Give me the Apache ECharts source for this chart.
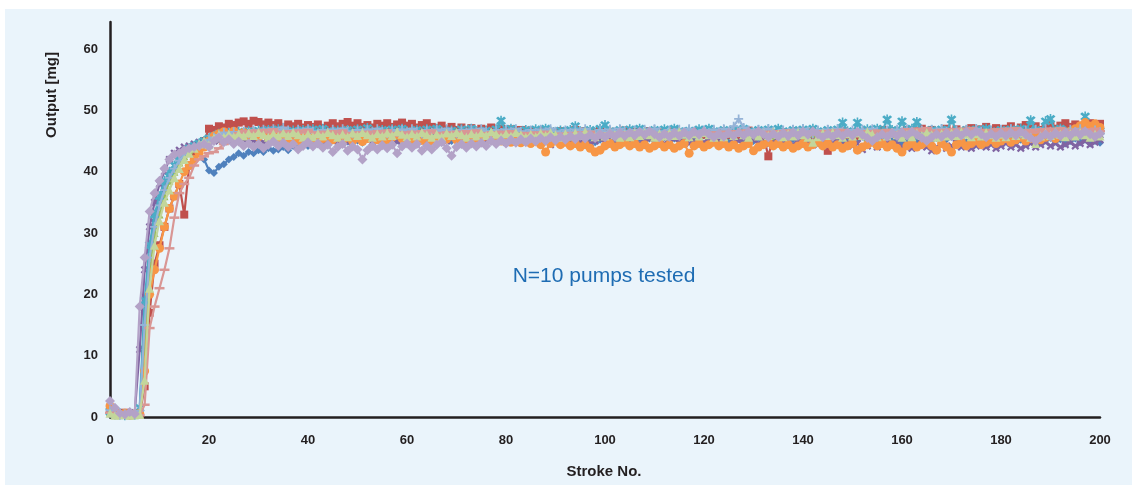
<!DOCTYPE html>
<html><head><meta charset="utf-8">
<script src="https://cdn.jsdelivr.net/npm/echarts@6/dist/echarts.min.js"></script>
<style>html,body{margin:0;padding:0;background:#fff;}#c{width:1137px;height:488px;}</style>
</head><body><div id="c"></div>
<script>
const xTicks = [0,20,40,60,80,100,120,140,160,180,200];
const yTicks = [0,10,20,30,40,50,60];
const seriesNames = ['Pump 1','Pump 2','Pump 3','Pump 4','Pump 5','Pump 6','Pump 7','Pump 8','Pump 9','Pump 10'];

const pump1 = [1.2,0.4,0.3,0.6,0.2,0.5,0.8,
17,27,32,35,37.5,39,40.5,41.5,42.5,43,43.5,43,42,
40.2,39.8,40.8,41.2,42,42.4,43,42.6,43.2,43,43.5,43.2,43.8,43.4,43.6,44,43.5,44.2,43.8,44.5,
44.2,44.8,44.5,45,44.6,45.2,44.8,45.3,44.9,45.5,45.1,44.7,45.4,45,45.6,45.2,44.8,45.5,45.1,45.7,
45.3,45,45.6,45.2,44.9,45.5,45.8,45.2,45.6,45,45.4,45.9,45.3,45.7,45.1,45.5,46,45.4,45.8,45.2,
45.6,45.1,45.5,45.9,45.3,45.7,45,45.4,45.8,45.2,45.6,45,45.5,44.9,45.3,45.7,45.1,45.5,44.8,45.2,
45.6,45,45.4,44.9,45.3,45.7,45.1,45.5,44.9,45.4,45.8,45.2,45.6,45,45.4,45.8,45.3,45.7,45.1,45.5,
45.9,45.3,45.7,45.1,45.5,45,45.4,45.8,45.2,45.6,45,45.5,45.9,45.3,45.7,45.1,45.5,44.9,45.3,45.7,
45.1,45.5,44.8,45.2,45.6,45,45.4,44.7,45.1,45.5,44.9,45.3,45.7,45.1,45.5,44.8,45.2,45.6,45,45.4,
44.8,45.2,45.6,45,45.4,44.7,45.1,45.5,44.9,45.3,45.7,45.1,45.5,44.8,45.2,45.6,45,45.4,44.8,45.2,
45.6,45,45.4,44.8,45.2,45.6,45,45.4,44.7,45.1,45.5,44.9,45.3,44.6,45,45.4,44.8,45.2,44.6,45,44.7];

const pump2 = [1.5,0.6,0.4,0.7,0.3,0.5,0.4,
5,17,25,28,31,34,36,38,33,41,43,44,45,
47,46.8,47.4,47.2,47.8,47.6,48,48.2,47.8,48.3,48.1,47.7,48,47.6,47.9,47.3,47.7,47.4,47.8,47.2,
47.6,47.3,47.7,47.1,47.5,47.9,47.4,47.8,48.1,47.5,47.9,47.3,47.6,47.2,47.8,47.5,47.9,47.3,47.7,48,
47.5,47.8,47.2,47.6,47.9,47.3,47.1,47.5,46.9,47.3,46.8,47.2,46.7,47.1,46.6,47,46.8,47.2,46.6,47,
46.5,46.9,46.4,46.8,46.3,46.7,46.2,46.6,46.1,46.5,46.2,46.6,46,46.4,46.8,46.2,46.6,46,46.4,46.7,
46.2,46.5,45.9,46.3,46.7,46.1,46.5,45.9,46.3,46.6,46,46.4,45.8,46.2,46.6,46,46.4,45.8,46.2,46.5,
46,46.4,45.8,46.2,46.6,46,46.4,45.9,46.3,46.7,46.1,46.4,45.8,42.5,45.6,46,46.4,45.8,46.2,46.6,
46,46.4,45.8,46.2,45.6,43.4,45.8,46.2,46.6,46,46.4,45.8,46.2,46.6,46,46.4,46.8,46.2,46.6,46,
46.4,46.8,46.2,46.6,47,46.4,46.8,46.2,46.6,47,46.5,46.9,46.3,46.7,47.1,46.5,46.9,47.3,46.7,47.1,
46.6,47,47.4,46.8,47.2,47.6,47,47.4,46.8,47.2,47.6,47,47.5,47.9,47.3,47.7,47.1,47.5,47.9,47.4,47.8];

const pump3 = [0.8,0.5,0.3,0.4,0.6,0.3,0.5,
12,24,30,33,36,38.5,40,41.5,42.5,43.5,44,44.5,45,
45.5,45.2,45.8,45.4,46,45.6,46.2,45.8,46.3,45.9,46.4,46,45.6,46.2,45.8,46.3,45.9,46.4,46,45.7,
46.2,45.8,46.3,45.9,46.5,46.1,45.7,46.3,45.9,46.4,46,45.6,46.2,45.8,46.4,46,46.5,46.1,45.7,46.3,
45.9,46.4,46,45.5,46.1,46.6,46.2,45.8,46.3,45.9,46.5,46.1,45.7,46.2,45.8,46.4,46,45.6,46.2,45.8,
46.3,45.9,46.5,46.1,45.7,46.2,45.8,46.4,46,45.6,46.1,45.7,46.3,45.9,46.4,46,45.6,46.2,45.8,46.3,
45.9,46.4,46,45.6,46.2,45.8,46.3,45.9,46.5,46.1,45.7,46.2,45.8,46.4,46,45.5,46.1,45.7,46.3,45.9,
46.4,46,45.6,46.2,45.8,46.3,45.9,46.5,46.1,45.7,46.2,45.8,46.4,46,45.6,46.1,45.7,46.3,45.9,46.4,
46,45.6,46.2,45.8,46.3,45.9,46.5,46.1,45.7,46.2,45.8,46.4,46,45.6,46.2,45.8,46.3,45.9,46.4,46,
45.6,46.1,45.7,46.3,45.9,46.5,46.1,45.7,46.2,45.8,46.4,46,45.6,46.2,45.8,46.3,45.9,46.5,46.1,45.7,
46.2,45.8,46.4,46,46.6,46.2,45.8,46.4,46,46.5,46.1,46.7,46.3,45.9,46.5,46.1,46.6,46.2,46.8,46.4,46.7];

const pump4 = [1,0.5,0.3,0.6,0.4,0.7,11,
24,31,35,38,40,42,43,43.5,44,44.2,44.5,44.8,45,
45.2,45.6,45,45.5,44.9,45.4,45.8,45.2,45.6,45,45.4,44.8,45.3,45.7,45.1,45.5,44.9,45.3,45.7,45.1,
45.5,44.9,45.3,44.7,45.2,45.6,45,45.4,44.8,45.2,45.6,45,45.4,44.8,45.3,45.7,45.1,45.5,44.9,45.3,
45.7,45.1,45.5,44.9,45.4,45.8,45.2,45.6,45,45.4,45.8,45.2,45.6,45,45.4,44.8,45.2,45.6,45,45.4,
44.8,45.2,45.6,45,45.4,44.8,45.2,44.6,45,44.4,44.8,45.2,44.6,45,44.4,44.8,45.2,44.6,45,45.4,
44.8,45.2,44.6,45,45.4,44.8,45.2,44.6,45,45.4,44.8,45.2,44.6,45,45.4,44.8,45.2,44.6,45,45.4,
44.8,45.2,45.6,45,44.6,44.2,44.6,45,45.4,44.8,45.2,44.6,45,44.4,44.8,45.2,44.6,45,44.4,44.8,
45.2,44.6,45,44.4,44.8,44.2,44.6,45,44.4,44.8,44.2,44.6,43.6,44.2,44.6,44,44.4,44.8,44.2,44.6,
44,44.4,43.8,44.2,44.6,44,43.4,44,44.4,43.8,44.2,44.6,44,44.4,43.8,44.2,44.6,44,44.4,43.8,
44.2,44.6,44,44.4,43.8,44.2,44.6,44,44.4,44.8,44.2,44.6,44,44.4,44.8,44.2,44.6,45,44.4,44.8,45.2];

const pump5 = [0.9,0.4,0.6,0.3,0.5,0.4,1.5,
19,28,33,36,38.5,40,41,42.5,43,43.8,44.2,44.6,45,
45.4,45.8,46.2,45.8,46.3,45.9,46.5,46.1,46.6,46.2,46.7,46.3,46.8,46.4,46.9,46.5,46.2,46.7,46.3,46.8,
46.4,46.9,46.5,47,46.6,46.2,46.7,46.3,46.8,46.4,46.9,46.5,47.1,46.6,46.2,46.8,46.4,46.9,46.5,47,
46.6,46.2,46.8,46.4,46.9,46.5,47,46.6,46.2,46.7,46.3,46.9,46.5,47,46.6,46.2,46.7,46.3,46.9,48.3,
46.5,47,46.6,46.2,46.8,46.4,46.9,46.5,47,46.6,46.2,46.7,46.3,46.8,47.4,46.6,46.2,46.8,46.4,47,
47.6,46.6,46.2,46.8,46.4,46.9,46.5,47,46.6,46.2,46.8,46.4,46.9,46.5,47,46.6,46.2,46.7,46.3,46.9,
46.5,47,46.6,46.2,46.8,46.4,46.9,46.5,47,46.6,46.2,46.8,46.4,46.9,46.5,47,46.6,46.2,46.8,46.4,
46.9,46.5,47,46.6,46.2,46.8,46.4,46.9,48,46.6,46.2,48,46.4,46.9,46.5,47,46.6,48.5,46.8,46.4,
48.2,46.5,47,48.1,46.6,46.2,46.8,46.4,46.9,46.5,48.5,46.6,46.2,46.8,46.4,46.9,46.5,47,46.6,46.2,
46.8,46.4,46.9,46.5,47,46.6,48.4,46.8,46.4,48.2,48.6,46.5,47,46.6,46.2,46.8,46.4,49,46.6,47,46.6];

const pump6 = [1.8,0.8,0.4,0.6,0.3,0.5,0.6,
7.5,20,24,27.5,31,34,36,38,40,41,42,43,44,
45,45.8,46.2,46.5,45.9,46.6,46,46.4,45.8,46.3,45.7,46.1,45.5,46,45.4,45.8,45.2,45.7,45.1,45.6,
45,45.5,44.9,45.4,45.8,45.2,45.7,45.1,45.6,45,45.5,44.9,45.4,45.8,45.2,45.7,45.1,45.6,46,45.4,
45.8,45.2,45.7,45.1,45.6,45,45.5,45.9,45.3,45.8,45.2,45.6,45,45.5,44.9,45.4,45.8,45.2,45.6,45,
45.4,44.8,45.3,44.7,45.2,44.6,45,44.4,43.2,44.6,45,44.4,44.8,44.2,44.6,44,44.4,43.8,43.2,43.5,
44.2,44.6,44,44.4,44.8,44.2,44.6,44,44.4,43.8,44.2,44.6,44,44.4,43.8,44.2,44.6,43,44.2,44.6,
44,44.4,44.8,44.2,44.6,44,44.4,43.8,44.2,44.6,43.4,44,44.4,44.8,44.2,44.6,44,44.4,43.8,44.2,
44.6,44,44.4,44.8,44.2,44.6,44,44.4,43.8,44.2,44.6,43.5,44,44.4,44.8,44.2,44.6,44,44.4,43.8,
43.2,44.2,44.6,44,44.4,44.8,44.2,43.5,44.6,44,43.2,44.4,44.8,44.2,44.6,45,44.4,44.8,45.2,44.6,
45,45.4,44.8,45.2,45.6,45,45.4,45.8,45.2,45.6,46,45.4,45.8,46.2,46.6,47,47.5,48,47.4,47.8,47.2];

const pump7 = [1.1,0.5,0.3,0.5,0.4,0.6,1,
15,26,31,34.5,37,39,40.5,41.8,42.8,43.5,44,44.4,44.8,
45.2,45.6,46,46.4,46,46.5,46.1,46.6,46.2,46.8,46.4,46.9,46.5,47,46.6,47.2,46.8,46.3,46.9,46.5,
47,46.6,46.2,46.8,46.4,46.9,46.5,47,46.6,46.2,46.8,46.4,46.9,46.5,47,46.6,46.2,46.8,46.4,46.9,
46.5,47,46.6,46.2,46.8,46.4,46.9,46.5,47,46.6,46.2,46.8,46.4,46.9,46.5,47,46.6,46.2,46.8,46.4,
46.9,46.5,47,46.6,46.2,46.8,46.4,46.9,46.5,47,46.6,46.2,46.8,46.4,46.9,46.5,47,46.6,46.2,46.8,
46.4,46.9,46.5,47,46.6,46.2,46.8,46.4,46.9,46.5,47,46.6,46.2,46.8,46.4,46.9,46.5,47,46.6,46.2,
46.8,46.4,46.9,46.5,47,46.6,47.4,48.6,47.2,46.8,46.4,46.9,46.5,47,46.6,46.2,46.8,46.4,46.9,46.5,
47,46.6,46.2,46.8,46.4,46.9,46.5,47,46.6,46.2,46.8,46.4,46.9,46.5,47,46.6,46.2,46.8,46.4,46.9,
46.5,47,46.6,46.2,46.8,46.4,46.9,46.5,47,46.6,46.2,46.8,46.4,46.9,46.5,47,46.6,46.2,46.8,46.4,
46.9,46.5,47,46.6,46.2,46.8,46.4,46.9,46.5,47,46.6,46.2,46.8,46.4,46.9,46.5,47,46.6,46.2,46.8,46.5];

const pump8 = [0.7,0.4,0.5,0.3,0.6,0.4,0.3,
2,14.5,18,21,24,27.5,32.5,36.5,38,39,41,42,42.5,
43,43.2,43.8,44.5,45.2,45.8,46.3,46.6,46.2,46.7,46.3,46.8,46.4,46.9,46.5,46.1,46.6,46.2,46.7,46.3,
46.8,46.4,46,46.5,46.1,46.6,46.2,46.7,46.3,45.9,46.4,46,46.5,46.1,46.6,46.2,46.7,46.3,45.9,46.4,
46,46.5,46.1,46.6,46.2,46.7,46.3,45.9,46.4,46,46.5,46.1,46.6,46.2,46.7,46.3,45.9,46.4,46,46.5,
46.1,46.6,46.2,45.8,46.3,45.9,46.4,46,46.5,46.1,45.7,46.2,45.8,46.3,45.9,46.4,46,46.5,46.1,45.7,
46.2,45.8,46.3,45.9,46.4,46,46.5,46.1,45.7,46.2,45.8,46.3,45.9,46.4,46,46.5,46.1,45.7,46.2,45.8,
46.3,45.9,46.4,46,46.5,46.1,46.6,46.2,46.7,46.3,45.9,46.4,46,46.5,46.1,46.6,46.2,46.7,46.3,45.9,
46.4,46,46.5,46.1,46.6,46.2,46.7,46.3,46.8,46.4,46,46.5,46.1,46.6,46.2,46.7,46.3,46.8,46.4,46,
46.5,46.9,46.5,47,46.6,47.1,46.7,46.3,46.8,46.4,46.9,46.5,47,46.6,47.1,46.7,46.3,46.8,46.4,46.9,
46.5,47,46.6,47.1,46.7,46.3,46.8,46.4,46.9,46.5,47,46.6,47.1,46.7,46.3,46.8,46.4,46.9,46.5,47,46.6];

const pump9 = [0.6,0.3,0.5,0.4,0.3,0.5,0.4,
6,21,28,32,35,37,39,40.5,42,43,43.8,44.5,45,
44.4,45.5,46,45.6,46.1,45.7,46.2,45.8,46.3,45.9,46.4,46,45.6,46.2,45.8,46.3,45.9,46.4,46,45.6,
46.1,45.7,46.2,45.8,46.4,46,45.6,46.1,45.7,46.3,45.9,46.4,46,45.6,46.2,45.8,46.3,45.9,46.5,46.1,
45.7,46.2,45.8,46.4,46,45.6,46.1,45.7,46.3,45.9,46.4,46,45.6,46.2,45.8,46.3,45.9,46.5,46.1,45.7,
46.2,45.8,46.4,46,45.6,46.1,45.7,46.3,45.9,46.4,46,45.6,46.2,45.8,46.3,45.9,46.5,46.1,45.7,46.2,
45.8,46.4,46,45.6,46.1,45.7,46.3,45.9,46.4,46,45.6,46.2,45.8,46.3,45.9,46.5,46.1,45.7,46.2,45.8,
46.4,46,45.6,46.1,45.7,46.3,45.9,46.4,46,45.6,46.2,45.8,46.3,45.9,46.5,46.1,45.7,46.2,45.8,46.4,
46,45.6,44.8,45.7,46.3,45.9,46.4,46,45.6,46.2,45.8,46.3,45.9,46.5,46.1,45.7,46.2,45.8,46.4,46,
45.6,46.1,45.7,46.3,45.9,46.4,46,45.6,46.2,45.8,46.3,45.9,46.5,46.1,45.7,46.2,45.8,46.4,46,45.6,
46.1,45.7,46.3,45.9,46.4,46,45.6,44.6,45.8,46.3,45.9,46.5,46.1,45.7,46.2,45.8,46.4,46,45.6,46.1,45.8];

const pump10 = [2.6,1.5,0.6,0.4,0.8,0.5,18,
26,33.5,36.5,38.5,40.5,42,42.8,43,43.5,43.8,44,44.2,44.5,
44,45,45.6,44.8,45.3,44.5,44.9,44.2,44.6,44,44.5,43.8,44.4,44.9,44.2,44.7,44,44.5,43.6,44.2,
44.8,44.1,44.6,43.9,44.4,43.2,44,44.5,43.4,44.1,43.6,42,43.5,44.2,43.6,44.3,43.8,44.4,43,44.1,
44.6,43.9,44.5,43.4,44.2,43.6,44.4,44.8,43.8,42.6,44,44.5,43.9,44.6,44.1,44.7,44.2,45,44.5,45.1,
44.6,45.2,44.7,45.3,44.8,45.4,44.9,45.5,45,45.6,45.1,45.7,45.2,45.8,45.3,45.9,45.4,46,45.5,46.1,
45.6,46.2,45.7,46.3,45.8,46.4,45.9,46.5,46,46.6,46.1,45.6,46.2,45.7,46.3,45.8,46.4,45.9,46.5,46,
46.6,46.1,45.6,46.2,45.7,46.3,45.8,46.4,45.9,46.5,46,46.6,46.1,45.6,46.2,45.7,46.3,45.8,46.4,45.9,
46.5,46,46.6,46.1,45.6,46.2,45.7,46.3,45.8,46.4,45.9,46.5,46,45.5,45,45.6,46.1,45.7,46.3,45.8,
46.4,45.9,46.5,46,45.5,45,45.6,46.1,45.7,46.3,45.8,46.4,45.9,46.5,46,46.6,46.1,45.6,46.2,45.7,
46.3,45.8,46.4,45.9,46.5,46,45.5,45,45.6,46.1,45.7,46.3,45.8,46.4,45.9,46.5,46,46.6,46.1,45.7,46.2];

const allPumps = [pump1,pump2,pump3,pump4,pump5,pump6,pump7,pump8,pump9,pump10];
const colors = ['#4f81bd','#c0504d','#9bbb59','#8064a2','#4bacc6','#f79646','#95b3d7','#d99694','#c3d69b','#b3a2c7'];
const SYM_X = 'path://M2,0L5,3L8,0L10,2L7,5L10,8L8,10L5,7L2,10L0,8L3,5L0,2Z';
const SYM_STAR = 'path://M2,0L5,3L8,0L10,2L7,5L10,8L8,10L5,7L2,10L0,8L3,5L0,2ZM4.2,-1H5.8V11H4.2Z';
const SYM_PLUS = 'path://M4,0H6V4H10V6H6V10H4V6H0V4H4Z';
const symbols = ['diamond','rect','triangle', SYM_X, SYM_STAR, 'circle', SYM_PLUS, 'rect', 'triangle', 'diamond'];
const symSizes = [8, 8, 8, 8, 10, 9, 9, [10, 2.5], 9, 10];

const chart = echarts.init(document.getElementById('c'), null, {renderer:'canvas'});
const series = allPumps.map((arr, i) => ({
  name: seriesNames[i],
  type: 'line',
  data: arr.map((v, k) => [k, v]),
  symbol: symbols[i],
  symbolSize: symSizes[i],
  showAllSymbol: true,
  lineStyle: {color: colors[i], width: 2.2},
  itemStyle: {color: colors[i]},
  z: 2 + i
}));

chart.setOption({
  animation: false,
  backgroundColor: '#ffffff',
  grid: {left: 110, right: 37, top: 22, bottom: 71, containLabel: false},
  graphic: [
    {type:'rect', z:-10, silent:true, shape:{x:5, y:9, width:1127, height:476}, style:{fill:'#eaf4fb'}},
    {type:'text', x: 604, y: 276, silent:true, style:{text:'N=10 pumps tested', fill:'#1e6cb3', align:'center', verticalAlign:'middle', font:'21px "Liberation Sans", Arial, sans-serif'}},
    {type:'text', x: 604, y: 472, silent:true, style:{text:'Stroke No.', fill:'#231f20', align:'center', verticalAlign:'middle', font:'bold 15px "Liberation Sans", Arial, sans-serif'}},
    {type:'text', x: 52, y: 95, rotation: Math.PI/2, silent:true, style:{text:'Output [mg]', fill:'#231f20', align:'center', verticalAlign:'middle', font:'bold 15px "Liberation Sans", Arial, sans-serif'}}
  ],
  xAxis: {
    type: 'value', min: xTicks[0], max: xTicks[xTicks.length-1], interval: 20,
    axisLine: {show:true, onZero:false, lineStyle:{color:'#231f20', width:2.5}},
    axisTick: {show:false},
    splitLine: {show:false},
    axisLabel: {color:'#231f20', fontWeight:'bold', fontSize:13, fontFamily:'"Liberation Sans", Arial, sans-serif', margin:17}
  },
  yAxis: {
    type: 'value', min: yTicks[0], max: 64.4, interval: 10,
    axisLine: {show:true, onZero:false, lineStyle:{color:'#231f20', width:2.5}},
    axisTick: {show:false},
    splitLine: {show:false},
    axisLabel: {color:'#231f20', fontWeight:'bold', fontSize:13, fontFamily:'"Liberation Sans", Arial, sans-serif', margin:12, showMaxLabel:false,
      formatter: v => (yTicks.indexOf(v) >= 0 ? String(v) : '')}
  },
  series: series
});
</script>
</body></html>
